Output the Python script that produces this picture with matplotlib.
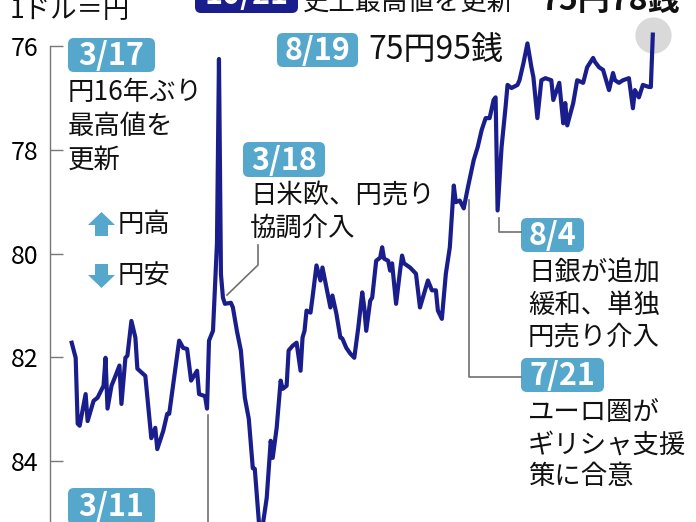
import matplotlib
matplotlib.use('Agg')
import matplotlib.pyplot as plt
from matplotlib.patches import FancyBboxPatch, Polygon
from matplotlib.lines import Line2D
from matplotlib.transforms import Affine2D

plt.rcParams['font.family'] = ['Noto Sans CJK JP', 'DejaVu Sans']

# day of year 2011 / yen per dollar
days = [2, 4, 5, 6, 9, 10, 13, 15, 18, 19, 20, 22, 24, 26, 27, 29, 30, 32, 34, 35,
        39, 42, 44, 45, 48, 50, 51, 56, 58, 60, 62, 65, 66, 69, 70, 71, 73, 75, 76, 77,
        78, 79, 82, 83, 85, 87, 89, 91, 93, 94, 96, 97, 100, 102, 103, 105, 107, 108, 110, 111,
        113, 115, 117, 118, 119, 120, 122, 123, 125, 127, 128, 130, 132, 133, 135, 137, 138, 140, 142, 144,
        146, 148, 149, 150, 152, 153, 155, 157, 158, 159, 161, 162, 163, 165, 167, 168, 169, 172, 175, 177,
        181, 183, 185, 186, 188, 190, 192, 194, 195, 197, 199, 201, 204, 206, 208, 210, 212, 214, 215, 216,
        218, 220, 221, 223, 226, 227, 229, 231, 233, 234, 236, 238, 240, 243, 244, 247, 249, 250, 251, 254,
        256, 259, 261, 264, 265, 267, 269, 272, 274, 275, 277, 279, 282, 284, 285, 287, 289, 292, 293, 294]
rates = [81.72, 82.01, 83.28, 83.32, 82.71, 83.23, 82.84, 82.78, 82.55, 82.01, 82.99, 82.55, 82.36, 82.16, 82.90, 82.01, 81.97, 81.30, 81.62, 82.22,
         82.36, 83.56, 83.36, 83.77, 83.42, 83.09, 83.09, 81.68, 81.82, 81.84, 82.45, 82.26, 82.71, 82.75, 82.99, 81.68, 81.49, 79.80, 76.25, 80.40,
         80.85, 80.97, 80.95, 81.04, 81.49, 81.87, 82.78, 83.19, 84.14, 84.15, 85.16, 85.50, 84.71, 83.61, 83.94, 83.36, 82.45, 82.61, 82.55, 81.87,
         81.78, 81.72, 82.26, 81.62, 81.49, 81.10, 81.14, 80.85, 80.23, 80.52, 80.27, 80.66, 81.04, 80.81, 81.16, 81.62, 81.64, 81.82, 81.93, 82.01,
         81.43, 80.75, 81.04, 81.49, 80.91, 80.85, 80.14, 80.08, 79.88, 80.10, 80.14, 80.33, 80.19, 80.97, 80.33, 80.04, 80.19, 80.27, 80.39, 81.04,
         80.52, 80.71, 80.71, 81.10, 81.26, 80.39, 79.88, 78.69, 79.01, 78.98, 79.13, 78.74, 78.20, 77.95, 77.62, 77.39, 77.39, 77.04, 76.99, 79.17,
         77.95, 77.18, 76.75, 76.81, 76.75, 76.66, 76.33, 75.95, 76.41, 76.60, 77.39, 76.66, 76.62, 76.66, 77.04, 76.71, 77.49, 77.10, 77.53, 77.10,
         76.66, 76.71, 76.41, 76.23, 76.31, 76.41, 76.46, 76.85, 76.52, 76.66, 76.71, 76.66, 76.62, 77.20, 76.85, 76.99, 76.75, 76.79, 76.79, 75.78]

yticks = [76, 78, 80, 82, 84]
ytick_labels = ['76', '78', '80', '82', '84']

W, H = 696, 522
navy = '#1a1e8c'
blue = '#55a7cc'
gray = '#707070'

fig = plt.figure(figsize=(W / 100, H / 100), dpi=100)
ax = fig.add_axes([50 / W, 0, 1 - 50 / W, 1])

ax.scatter([days[-1]], [rates[-1]], s=680, color='#d9d9d9', linewidths=0, zorder=1)
ax.plot(days, rates, color=navy, lw=3.0, zorder=2)

ax.set_xlim(-8.9, 315.7)
ax.set_ylim(85.176, 75.113)
ax.set_xticks([])
ax.set_yticks(yticks)
ax.set_yticklabels(ytick_labels)
ax.tick_params(axis='y', direction='in', length=9, width=1.0, color='#777777',
               labelsize=18, pad=8.5, labelcolor='black')
for s in ['top', 'right', 'bottom']:
    ax.spines[s].set_visible(False)
ax.spines['left'].set_color('#777777')
ax.spines['left'].set_linewidth(1.0)
ax.spines['left'].set_bounds(85.176, 76)
ax.patch.set_visible(False)

# pixel coordinates measured from the top-left corner
pix = Affine2D().scale(1 / W, -1 / H).translate(0, 1) + fig.transFigure


def tag(x0, y0, x1, y1, s, color=blue, size=22):
    box = FancyBboxPatch((x0, y0), x1 - x0, y1 - y0, boxstyle='round,pad=0,rounding_size=6',
                         transform=pix, fc=color, ec='none')
    fig.add_artist(box)
    fig.text((x0 + x1) / 2, (y0 + y1) / 2 + 1, s, transform=pix, ha='center', va='center',
             color='white', fontsize=size, fontweight='bold')


def lines(x, ys, texts, size=19):
    for y, t in zip(ys, texts):
        fig.text(x, y, t, transform=pix, ha='left', va='center', fontsize=size, color='#111111')


def leader(xs, ys):
    fig.add_artist(Line2D(xs, ys, transform=pix, color=gray, lw=1.2))


fig.text(10, 11, '1ドル＝円', transform=pix, ha='left', va='center', fontsize=19, color='#111111')

# top: 10/21
tag(195, -25, 298, 13, '10/21', color=navy)
fig.text(303, 10, '史上最高値を更新', transform=pix, ha='left', va='baseline', fontsize=19, color='#111111')
fig.text(540, 10, '75円78銭', transform=pix, ha='left', va='baseline', fontsize=23,
         fontweight='bold', color='#111111')

# 3/17
tag(68, 38, 155, 72, '3/17')
lines(68, [93, 127, 160], ['円16年ぶり', '最高値を', '更新'])

# 8/19
tag(277, 33, 358, 67, '8/19')
fig.text(368, 50, '75円95銭', transform=pix, ha='left', va='center', fontsize=23, color='#111111')

# 3/18
tag(243, 142, 325, 177, '3/18')
lines(250, [196, 228], ['日米欧、円売り', '協調介入'])
leader([227, 258, 258], [295, 265, 245])

# 8/4
tag(521, 218, 584, 252, '8/4')
lines(528, [273, 305, 337], ['日銀が追加', '緩和、単独', '円売り介入'])
leader([499, 499, 521], [218, 232, 232])

# 7/21
tag(521, 358, 604, 392, '7/21')
lines(528, [413, 445, 477], ['ユーロ圏が', 'ギリシャ支援', '策に合意'])
leader([469, 469, 521], [200, 377, 377])

# 3/11
tag(68, 488, 155, 525, '3/11')
leader([208, 208], [415, 522])

# yen up / down arrows
fig.add_artist(Polygon([(88, 225), (101.5, 212), (115, 225), (108, 225), (108, 236), (95, 236), (95, 225)],
                       closed=True, transform=pix, fc=blue, ec='none'))
fig.add_artist(Polygon([(88, 275), (101.5, 288), (115, 275), (108, 275), (108, 264), (95, 264), (95, 275)],
                       closed=True, transform=pix, fc=blue, ec='none'))
lines(118, [224, 276], ['円高', '円安'])

plt.savefig('out.png', dpi=100)
